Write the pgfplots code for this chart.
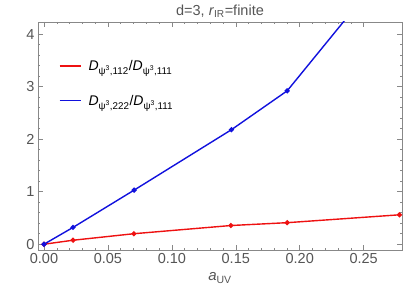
\documentclass[border=0pt]{standalone}
\usepackage{fontspec}
\setmainfont{Liberation Sans}
\usepackage{pgfplots}
\pgfplotsset{compat=1.18}
\definecolor{txtgray}{HTML}{555555}
\definecolor{framegray}{HTML}{888888}
\definecolor{mred}{HTML}{EE1111}
\definecolor{mblue}{HTML}{1111DD}

\newcommand{\legline}[1]{\textcolor{#1}{\rule[0.3em]{21pt}{1.4pt}}\hspace{8pt}}

\begin{document}
\begin{tikzpicture}
\begin{axis}[
    name=ax,
    scale only axis,
    width=364pt,
    height=228pt,
    xmin=-0.0047, xmax=0.28,
    ymin=-0.11, ymax=4.23,
    xtick={0,0.05,0.1,0.15,0.2,0.25},
    ytick={0,1,2,3,4},
    minor x tick num=4,
    minor y tick num=4,
    tick align=inside,
    major tick length=5pt,
    minor tick length=2.5pt,
    tick style={framegray, line width=0.5pt},
    axis line style={framegray, line width=0.6pt},
    xticklabel style={/pgf/number format/.cd, fixed, fixed zerofill, precision=2},
    /pgf/number format/assume math mode=true,
    ticklabel style={font=\fontsize{14.5}{16}\selectfont, text=txtgray},
    title={d=3, \textit{r}\textsubscript{IR}=finite},
    title style={font=\fontsize{14.5}{16}\selectfont, text=txtgray, yshift=-5pt},
    xlabel={\textit{a}\textsubscript{UV}},
    xlabel style={font=\fontsize{15}{16}\selectfont, text=txtgray, yshift=-2pt},
    legend style={draw=none, fill=none, at={(0.045,0.848)}, anchor=north west,
        font=\fontsize{14}{15}\selectfont, row sep=19pt},
    legend cell align=left,
    legend image code/.code={},
]
\addplot[mred, line width=1.4pt, mark=*, mark size=1.8pt] coordinates {
    (0,0) (0.0227,0.076) (0.0703,0.20) (0.1462,0.356) (0.1902,0.41) (0.278,0.56)
};
\addlegendentry{\legline{mred}\textit{D}\textsubscript{ψ\textsuperscript{3},112}/\textit{D}\textsubscript{ψ\textsuperscript{3},111}}
\addplot[mblue, line width=1.4pt, mark=*, mark size=1.8pt] coordinates {
    (0,0) (0.0227,0.32) (0.0705,1.03) (0.1466,2.18) (0.1902,2.92) (0.278,5.54)
};
\addlegendentry{\legline{mblue}\textit{D}\textsubscript{ψ\textsuperscript{3},222}/\textit{D}\textsubscript{ψ\textsuperscript{3},111}}
\end{axis}
\path ([xshift=-38pt,yshift=-50pt]ax.south west) rectangle ([xshift=5pt,yshift=22pt]ax.north east);
\end{tikzpicture}
\end{document}
